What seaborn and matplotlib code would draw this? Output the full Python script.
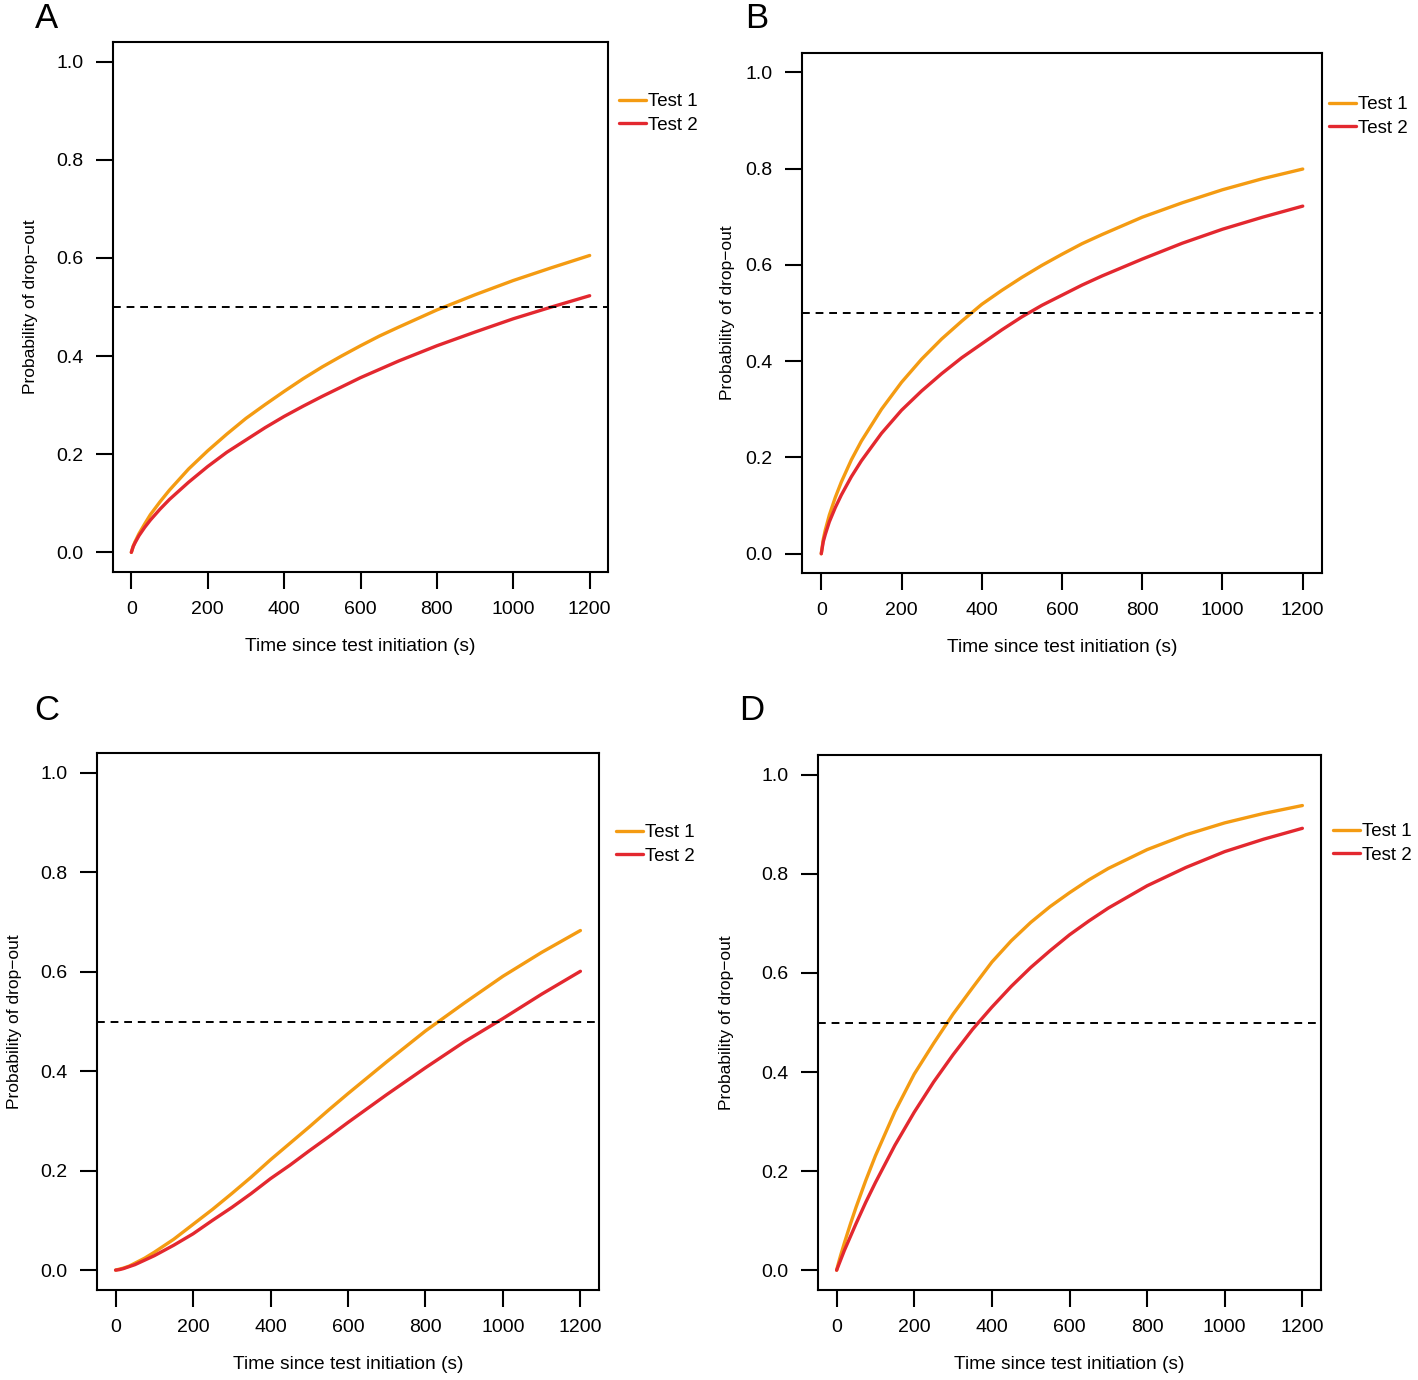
import pandas as pd
import matplotlib.pyplot as plt
import seaborn as sns

plt.switch_backend('Agg')

# time points (s)
time_s = [0, 5, 10, 20, 35, 50, 75, 100, 150, 200, 250, 300, 350, 400, 450,
          500, 550, 600, 650, 700, 800, 900, 1000, 1100, 1200]

# panel A
a_test1 = [0, .013, .022, .038, .058, .077, .103, .127, .170, .207, .241, .273, .301, .328, .354,
           .378, .400, .421, .441, .459, .494, .525, .554, .580, .605]
a_test2 = [0, .012, .020, .034, .051, .066, .088, .108, .143, .175, .204, .229, .254, .277, .298,
           .318, .337, .356, .373, .390, .421, .449, .476, .500, .523]
# panel B
b_test1 = [0, .030, .049, .080, .117, .149, .195, .234, .300, .356, .404, .446, .483, .518, .547,
           .574, .599, .622, .644, .663, .699, .729, .756, .779, .799]
b_test2 = [0, .025, .040, .066, .096, .122, .160, .193, .250, .298, .338, .374, .407, .436, .465,
           .492, .516, .537, .558, .577, .612, .645, .674, .699, .722]
# panel C
c_test1 = [0, .001, .002, .004, .008, .014, .024, .036, .062, .092, .122, .154, .187, .222, .255,
           .288, .322, .355, .387, .419, .481, .537, .591, .639, .683]
c_test2 = [0, .0005, .001, .003, .007, .011, .020, .029, .050, .073, .100, .126, .154, .184, .211,
           .240, .268, .297, .325, .353, .407, .459, .506, .555, .601]
# panel D
d_test1 = [0, .015, .029, .055, .092, .127, .181, .231, .320, .396, .458, .517, .570, .622, .665,
           .702, .734, .762, .788, .811, .849, .879, .903, .922, .938]
d_test2 = [0, .010, .020, .040, .067, .094, .137, .177, .252, .319, .380, .435, .486, .531, .573,
           .611, .645, .677, .705, .731, .776, .813, .845, .870, .892]

panel_labels = ['A', 'B', 'C', 'D']
series_names = ['Test 1', 'Test 2']
x_ticks = [0, 200, 400, 600, 800, 1000, 1200]
y_ticks = [0.0, 0.2, 0.4, 0.6, 0.8, 1.0]
threshold = 0.5

colors = {'Test 1': '#F49B12', 'Test 2': '#E3282F'}

sns.set_style('ticks')
plt.rcParams['font.family'] = ['Liberation Sans', 'DejaVu Sans']
plt.rcParams['text.color'] = 'black'
plt.rcParams['axes.labelcolor'] = 'black'
plt.rcParams['xtick.color'] = 'black'
plt.rcParams['ytick.color'] = 'black'

W, H = 1418, 1380
fig = plt.figure(figsize=(W / 100, H / 100), dpi=100)

# pixel boxes: left, right, top, bottom ; legend anchor ; panel letter ; ylabel x
layout = [
    dict(box=(113, 608, 42, 572), leg=(619, 93), letter=(47, 18), ylab=38),
    dict(box=(802, 1322, 53, 573), leg=(1329, 96), letter=(757, 18), ylab=735),
    dict(box=(97, 599, 753, 1290), leg=(616, 824), letter=(47, 711), ylab=22),
    dict(box=(818, 1321, 755, 1290), leg=(1333, 823), letter=(752, 711), ylab=734),
]
all_data = [(a_test1, a_test2), (b_test1, b_test2), (c_test1, c_test2), (d_test1, d_test2)]

for lab, lay, (s1, s2) in zip(panel_labels, layout, all_data):
    l, r, t, b = lay['box']
    ax = fig.add_axes([l / W, 1 - b / H, (r - l) / W, (b - t) / H])
    df = pd.DataFrame({
        'time': time_s + time_s,
        'prob': s1 + s2,
        'test': [series_names[0]] * len(time_s) + [series_names[1]] * len(time_s),
    })
    sns.lineplot(data=df, x='time', y='prob', hue='test', palette=colors,
                 linewidth=2.4, ax=ax, legend=False)
    ax.axhline(threshold, color='black', linewidth=1.4, dashes=(4, 3))

    ax.set_xlim(-48, 1248)
    ax.set_ylim(-0.04, 1.04)
    ax.set_xticks(x_ticks)
    ax.set_yticks(y_ticks)
    ax.set_yticklabels([f'{v:.1f}' for v in y_ticks])
    ax.tick_params(length=12, width=1.5, pad=9, labelsize=14, direction='out')
    for sp in ax.spines.values():
        sp.set_linewidth(1.5)
        sp.set_color('black')

    ax.set_xlabel('Time since test initiation (s)', fontsize=13.8)
    ax.set_ylabel('Probability of drop\u2212out', fontsize=12.5)
    ax.xaxis.set_label_coords(0.5, -66 / (b - t))
    ax.yaxis.set_label_coords((lay['ylab'] - l) / (r - l), 0.5)

    handles = [plt.Line2D([], [], color=colors[n], linewidth=2.4) for n in series_names]
    lx, ly = lay['leg']
    ax.legend(handles, series_names, loc='upper left',
              bbox_to_anchor=(lx / W, 1 - ly / H), bbox_transform=fig.transFigure,
              frameon=False, fontsize=13.5, handlelength=1.45, handletextpad=0.1,
              borderpad=0, borderaxespad=0, labelspacing=0.35)

    lxp, lyp = lay['letter']
    fig.text(lxp / W, 1 - lyp / H, lab, fontsize=25, ha='center', va='center')

fig.savefig('out.png', dpi=100)
